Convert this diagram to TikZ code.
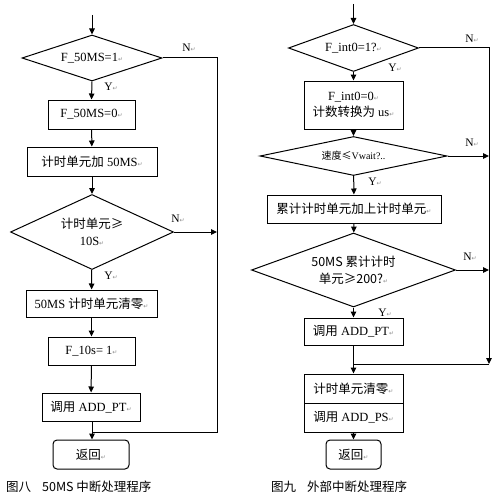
\documentclass[tikz,border=0pt]{standalone}
\usepackage{fontspec}
\setmainfont{Liberation Serif}
\newfontfamily\cjk{Noto Sans CJK SC}
\newfontfamily\dvs{DejaVu Sans}
\usetikzlibrary{shapes.geometric,arrows.meta}
\newcommand\zh[1]{{\cjk\fontsize{12.5}{15}\selectfont #1}}
\newcommand\ret{{\dvs\fontsize{6}{6}\selectfont\color{black!45}↵}}
\begin{document}
\begin{tikzpicture}[x=1pt,y=-1pt,
  every node/.style={font=\fontsize{12.5}{15}\selectfont, inner sep=0pt},
  proc/.style={draw, rectangle, line width=1pt, align=center},
  dec/.style={draw, diamond, line width=1pt, align=center},
  term/.style={draw, rectangle, rounded corners=4pt, line width=1pt},
  lab/.style={font=\fontsize{11.5}{12}\selectfont},
  captext/.style={anchor=west, font=\fontsize{11.5}{13}\selectfont},
  link/.style={line width=1pt},
  arr/.style={line width=1pt, -{Triangle[length=6pt,width=5.5pt]}}]
\useasboundingbox (0,0) rectangle (503,503);
% ---------- left chart ----------
\coordinate (s1) at (92,15);
\node[dec, minimum width=140pt, minimum height=46pt, shape aspect=3] (d1) at (92,58) {F\_50MS=1\ret};
\node[proc, minimum width=87pt, minimum height=29pt] (b1) at (91.5,114.5) {F\_50MS=0\ret};
\node[proc, minimum width=130pt, minimum height=29pt] (b2) at (92,161.5) {\zh{计时单元加} 50MS\ret};
\node[dec, minimum width=163pt, minimum height=75pt, shape aspect=2.2] (d2) at (92,232) {\zh{计时单元≥}\\[2pt]10S\ret};
\node[proc, minimum width=131pt, minimum height=27pt] (b3) at (91.5,303.5) {50MS \zh{计时单元清零}\ret};
\node[proc, minimum width=87pt, minimum height=28pt] (b4) at (91.5,351) {F\_10s= 1\ret};
\node[proc, minimum width=98pt, minimum height=28pt] (b5) at (91,407) {\zh{调用} ADD\_PT\ret};
\node[term, minimum width=76pt, minimum height=29pt] (r1) at (91,454.5) {\zh{返回}\ret};
\coordinate (n1) at (217,58);
\coordinate (j1) at (217,432);
\coordinate (j1b) at (92,432);
\draw[arr] (s1) -- (d1.north);
\draw[arr] (d1.south) -- (b1.north);
\draw[arr] (b1) -- (b2);
\draw[arr] (b2) -- (d2);
\draw[arr] (d2) -- (b3);
\draw[arr] (b3) -- (b4);
\draw[arr] (b4) -- (b5);
\draw[arr] (b5.south -| j1b) -- (j1b |- r1.north);
\draw[link] (d1.east) -- (n1) -- (j1) -- (j1b);
\draw[arr] (d2.east) -- (n1 |- d2.east);
\node[lab] (lN1) at (189,48) {N\ret};
\node[lab] (lY1) at (111,87) {Y\ret};
\node[lab] (lN2) at (178,219) {N\ret};
\node[lab] (lY2) at (111,276) {Y\ret};
\node[captext] (cap1) at (6,487) {\zh{图八}\hspace{11pt}\zh{50MS 中断处理程序}};
% ---------- right chart ----------
\coordinate (s2) at (353.5,4);
\node[dec, minimum width=130pt, minimum height=47pt, shape aspect=2.8] (e1) at (353.5,48) {F\_int0=1?\ret};
\node[proc, minimum width=99pt, minimum height=48pt] (c1) at (353.5,105) {F\_int0=0\ret\\[1pt]\zh{计数转换为} us\ret};
\node[dec, minimum width=187pt, minimum height=39pt, shape aspect=4.8, font=\fontsize{10}{11}\selectfont] (e2) at (353.5,156) {{\cjk\fontsize{10}{11}\selectfont 速度≤}Vwait?..};
\node[proc, minimum width=174pt, minimum height=28pt] (c2) at (354,209) {\zh{累计计时单元加上计时单元}\ret};
\node[dec, minimum width=204pt, minimum height=74pt, shape aspect=2.75] (e3) at (353.5,270) {\zh{50MS 累计计时}\\[2pt]\zh{单元≥200?}\ret};
\node[proc, minimum width=99pt, minimum height=27pt] (c3) at (353.5,331.5) {\zh{调用} ADD\_PT\ret};
\node[proc, minimum width=99pt, minimum height=29pt] (c4a) at (353.5,388.5) {\zh{计时单元清零}\ret};
\node[proc, minimum width=99pt, minimum height=29pt] (c4b) at (353.5,417.5) {\zh{调用} ADD\_PS\ret};
\node[term, minimum width=55pt, minimum height=29pt] (r2) at (353.5,454.5) {\zh{返回}\ret};
\coordinate (n2) at (489,48);
\coordinate (j2) at (489,364);
\coordinate (j2b) at (353.5,364);
\draw[arr] (s2) -- (e1.north);
\draw[arr] (e1.south) -- (c1.north);
\draw[arr] (c1) -- (e2);
\draw[arr] (e2) -- (c2);
\draw[arr] (c2) -- (e3);
\draw[arr] (e3) -- (c3);
\draw[arr] (c3) -- (c4a);
\draw[arr] (c4b) -- (r2);
\draw[arr] (e1.east) -- (n2) -- (j2);
\draw[link] (j2) -- (j2b);
\draw[arr] (e2.east) -- (n2 |- e2.east);
\draw[arr] (e3.east) -- (n2 |- e3.east);
\node[lab] (rN1) at (472,39) {N\ret};
\node[lab] (rY1) at (395,68) {Y\ret};
\node[lab] (rN2) at (472,143) {N\ret};
\node[lab] (rY2) at (375,182) {Y\ret};
\node[lab] (rN3) at (470,257) {N\ret};
\node[lab] (rY3) at (385,313) {Y\ret};
\node[captext] (cap2) at (271,487) {\zh{图九}\hspace{11pt}\zh{外部中断处理程序}};
\end{tikzpicture}
\end{document}
